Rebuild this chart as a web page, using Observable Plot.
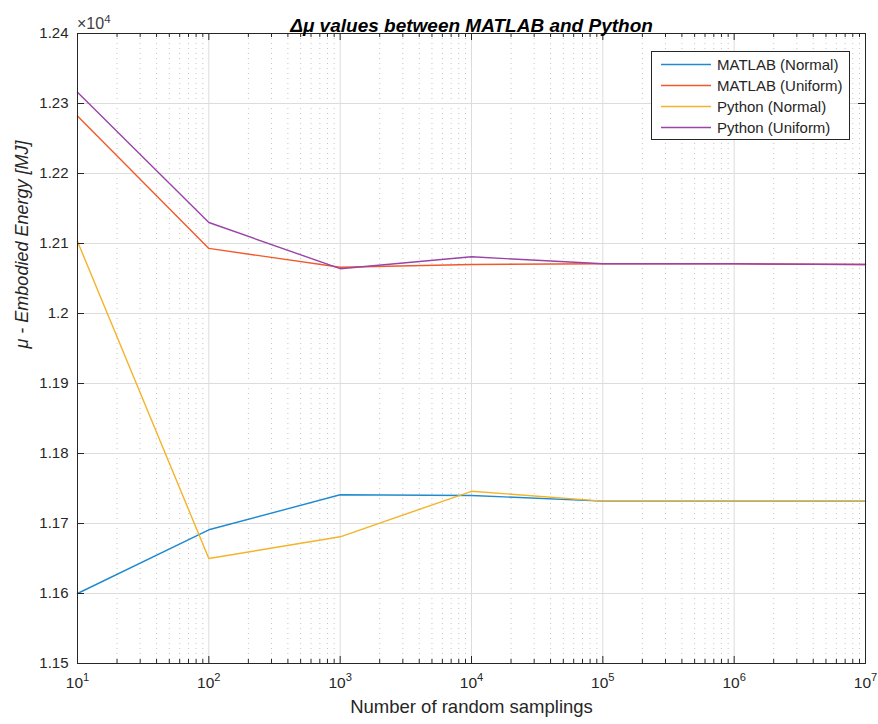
<!DOCTYPE html>
<html>
<head>
<meta charset="utf-8">
<script src="https://cdn.jsdelivr.net/npm/d3@7"></script>
<script src="https://cdn.jsdelivr.net/npm/@observablehq/plot@0.6"></script>
<style>
  body { margin: 0; background: #fff; }
  svg { display: block; }
</style>
</head>
<body>
<div id="chart"></div>
<script>
// ---- data ----
const samplings = [10, 100, 1000, 10000, 100000, 1000000, 10000000];
const matlabNormal  = [11600, 11691, 11741, 11740, 11732, 11732, 11732];
const matlabUniform = [12282, 12093, 12066, 12070, 12071, 12071, 12070];
const pythonNormal  = [12103, 11650, 11681, 11746, 11732, 11732, 11732];
const pythonUniform = [12316, 12130, 12064, 12081, 12071, 12071, 12070];

const seriesNames  = ["MATLAB (Normal)", "MATLAB (Uniform)", "Python (Normal)", "Python (Uniform)"];
const seriesColors = ["#1f8ad0", "#f2592a", "#f4b329", "#9a44a8"];
const seriesValues = [matlabNormal, matlabUniform, pythonNormal, pythonUniform];

const decadeTicks = [10, 100, 1000, 10000, 100000, 1000000, 10000000];
const yTicks = [11500, 11600, 11700, 11800, 11900, 12000, 12100, 12200, 12300, 12400];
const minorMultipliers = [2, 3, 4, 5, 6, 7, 8, 9];

const titleText = "Δμ values between MATLAB and Python";
const xLabel = "Number of random samplings";
const yLabel = "μ - Embodied Energy [MJ]";

// ---- derived tables ----
const minorTicks = decadeTicks.slice(0, -1).flatMap(d => minorMultipliers.map(m => m * d));
const rows = seriesNames.flatMap((name, i) =>
  samplings.map((n, j) => ({series: name, n, value: seriesValues[i][j]})));

const W = 878, H = 724, mL = 77, mR = 13, mT = 33, mB = 61;
const pw = W - mL - mR, ph = H - mT - mB;
const axisColor = "#262626";
const font = "'Liberation Sans', Arial, Helvetica, sans-serif";

const chart = Plot.plot({
  width: W, height: H,
  marginLeft: mL, marginRight: mR, marginTop: mT, marginBottom: mB,
  style: {fontFamily: font, fontSize: "15px", color: axisColor, background: "#fff"},
  x: {type: "log", domain: [10, 1e7]},
  y: {domain: [11500, 12400]},
  color: {domain: seriesNames, range: seriesColors},
  marks: [
    Plot.ruleX(minorTicks, {x: d => d, stroke: "#c4c4c4", strokeWidth: 1, strokeDasharray: "1,4"}),
    Plot.ruleX(decadeTicks, {x: d => d, stroke: "#dcdcdc", strokeWidth: 1}),
    Plot.ruleY(yTicks, {y: d => d, stroke: "#dcdcdc", strokeWidth: 1}),
    Plot.line(rows, {x: "n", y: "value", z: "series", stroke: "series", strokeWidth: 1.4}),
    Plot.frame({stroke: axisColor, strokeWidth: 1}),
    // inward ticks, all four sides
    Plot.tickX(decadeTicks, {x: d => d, insetTop: ph - 7, stroke: axisColor}),
    Plot.tickX(decadeTicks, {x: d => d, insetBottom: ph - 7, stroke: axisColor}),
    Plot.tickX(minorTicks, {x: d => d, insetTop: ph - 4, stroke: axisColor}),
    Plot.tickX(minorTicks, {x: d => d, insetBottom: ph - 4, stroke: axisColor}),
    Plot.tickY(yTicks, {y: d => d, insetRight: pw - 7, stroke: axisColor}),
    Plot.tickY(yTicks, {y: d => d, insetLeft: pw - 7, stroke: axisColor}),
    Plot.axisX({ticks: decadeTicks, tickSize: 0, tickPadding: 13, label: null, fontSize: 15.5,
      tickFormat: d => String(Math.round(Math.log10(d)))}),
    Plot.axisY({ticks: yTicks, tickSize: 0, tickPadding: 9, label: null, fontSize: 15,
      tickFormat: d => (d / 1e4).toFixed(2).replace(/0$/, "")}),
    Plot.text([titleText], {text: d => d, frameAnchor: "top", dy: -15, fontSize: 19,
      fontWeight: "bold", fontStyle: "italic", fill: "#000"}),
    Plot.text([xLabel], {text: d => d, frameAnchor: "bottom", dy: 49, fontSize: 18.5, fill: axisColor}),
    Plot.text([yLabel], {text: d => d, frameAnchor: "left", dx: -55, rotate: -90, fontSize: 18,
      fontStyle: "italic", fill: axisColor})
  ]
});

document.getElementById("chart").appendChild(chart);
const svg = d3.select(chart);

// superscript exponents on x tick labels
svg.selectAll('g[aria-label="x-axis tick label"] text').each(function() {
  const k = this.textContent;
  const t = d3.select(this);
  t.text("10");
  t.append("tspan").attr("dy", "-0.55em").attr("font-size", "0.72em").text(k);
});

// exponent label above y axis
const ex = svg.append("text")
  .attr("x", mL).attr("y", mT - 4).attr("text-anchor", "start")
  .attr("font-family", font).attr("font-size", 16).attr("fill", "#404040");
ex.append("tspan").text("×10");
ex.append("tspan").attr("dy", "-0.55em").attr("font-size", "0.72em").text("4");

// legend
const lg = svg.append("g").attr("font-family", font).attr("font-size", 15).attr("text-anchor", "start");
lg.append("rect").attr("x", 651.5).attr("y", 51.5).attr("width", 198).attr("height", 88)
  .attr("fill", "#fff").attr("stroke", axisColor).attr("stroke-width", 1);
seriesNames.forEach((name, i) => {
  const y = 64.5 + i * 21;
  lg.append("line").attr("x1", 661).attr("x2", 711).attr("y1", y).attr("y2", y)
    .attr("stroke", seriesColors[i]).attr("stroke-width", 1.4);
  lg.append("text").attr("x", 717).attr("y", y).attr("dy", "0.35em")
    .attr("text-anchor", "start").attr("fill", axisColor).text(name);
});
</script>
</body>
</html>
